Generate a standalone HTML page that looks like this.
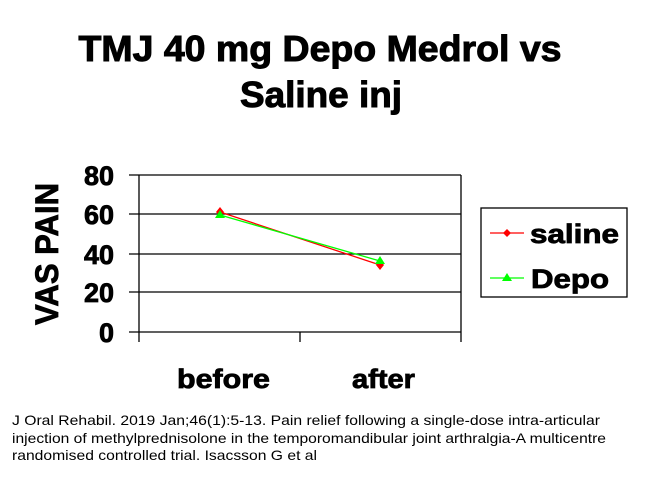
<!DOCTYPE html>
<html><head><style>html,body{margin:0;padding:0;background:#fff}svg{display:block}</style></head>
<body>
<svg width="646" height="487" xmlns="http://www.w3.org/2000/svg" font-family="Liberation Sans, Arial, sans-serif">
<rect width="646" height="487" fill="#fff"/>
<g stroke="#000" stroke-width="1">
<text x="320" y="61" font-size="36" font-weight="bold" text-anchor="middle" textLength="483" lengthAdjust="spacingAndGlyphs">TMJ 40 mg Depo Medrol vs</text>
<text x="321" y="107" font-size="36" font-weight="bold" text-anchor="middle" textLength="162" lengthAdjust="spacingAndGlyphs">Saline inj</text>
</g>
<g stroke="#000" stroke-width="1.3" fill="none">
<line x1="129" y1="175" x2="461" y2="175"/>
<line x1="129" y1="214" x2="461" y2="214"/>
<line x1="129" y1="254" x2="461" y2="254"/>
<line x1="129" y1="292" x2="461" y2="292"/>
<line x1="129" y1="332" x2="461" y2="332"/>
<line x1="139" y1="175" x2="139" y2="342"/>
<line x1="461" y1="175" x2="461" y2="342"/>
<line x1="300" y1="332" x2="300" y2="342"/>
<rect x="481" y="208" width="146" height="89"/>
</g>
<g font-size="27" font-weight="bold" text-anchor="end" stroke="#000" stroke-width="0.8">
<text x="114" y="185">80</text>
<text x="114" y="224">60</text>
<text x="114" y="264">40</text>
<text x="114" y="302">20</text>
<text x="114" y="342">0</text>
</g>
<text transform="translate(58,254) rotate(-90)" font-size="32" font-weight="bold" text-anchor="middle" textLength="142" lengthAdjust="spacingAndGlyphs" stroke="#000" stroke-width="0.8">VAS PAIN</text>
<line x1="220" y1="212" x2="380" y2="265" stroke="#f00" stroke-width="1.3"/>
<line x1="220" y1="215" x2="380" y2="261" stroke="#0f0" stroke-width="1.3"/>
<polygon points="220,207 224,212 220,217 216,212" fill="#f00"/>
<polygon points="380,260 384,265 380,270 376,265" fill="#f00"/>
<polygon points="220,210 225,218 215,218" fill="#0f0"/>
<polygon points="380,256 385,264 375,264" fill="#0f0"/>
<line x1="490" y1="233" x2="524" y2="233" stroke="#f00" stroke-width="1.3"/>
<polygon points="507,229 511,233 507,237 503,233" fill="#f00"/>
<line x1="490" y1="278" x2="524" y2="278" stroke="#0f0" stroke-width="1.3"/>
<polygon points="507,273 512,281 502,281" fill="#0f0"/>
<g stroke="#000" stroke-width="0.8" font-size="27" font-weight="bold">
<text x="530" y="243" textLength="89" lengthAdjust="spacingAndGlyphs">saline</text>
<text x="531" y="288" textLength="78" lengthAdjust="spacingAndGlyphs">Depo</text>
<text x="177" y="388" textLength="93" lengthAdjust="spacingAndGlyphs">before</text>
<text x="352" y="388" textLength="63" lengthAdjust="spacingAndGlyphs">after</text>
</g>
<g font-size="14">
<text x="12" y="425" textLength="588" lengthAdjust="spacingAndGlyphs">J Oral Rehabil. 2019 Jan;46(1):5-13. Pain relief following a single-dose intra-articular</text>
<text x="12" y="443" textLength="594" lengthAdjust="spacingAndGlyphs">injection of methylprednisolone in the temporomandibular joint arthralgia-A multicentre</text>
<text x="12" y="460" textLength="305" lengthAdjust="spacingAndGlyphs">randomised controlled trial. Isacsson G et al</text>
</g>
</svg>
</body></html>
